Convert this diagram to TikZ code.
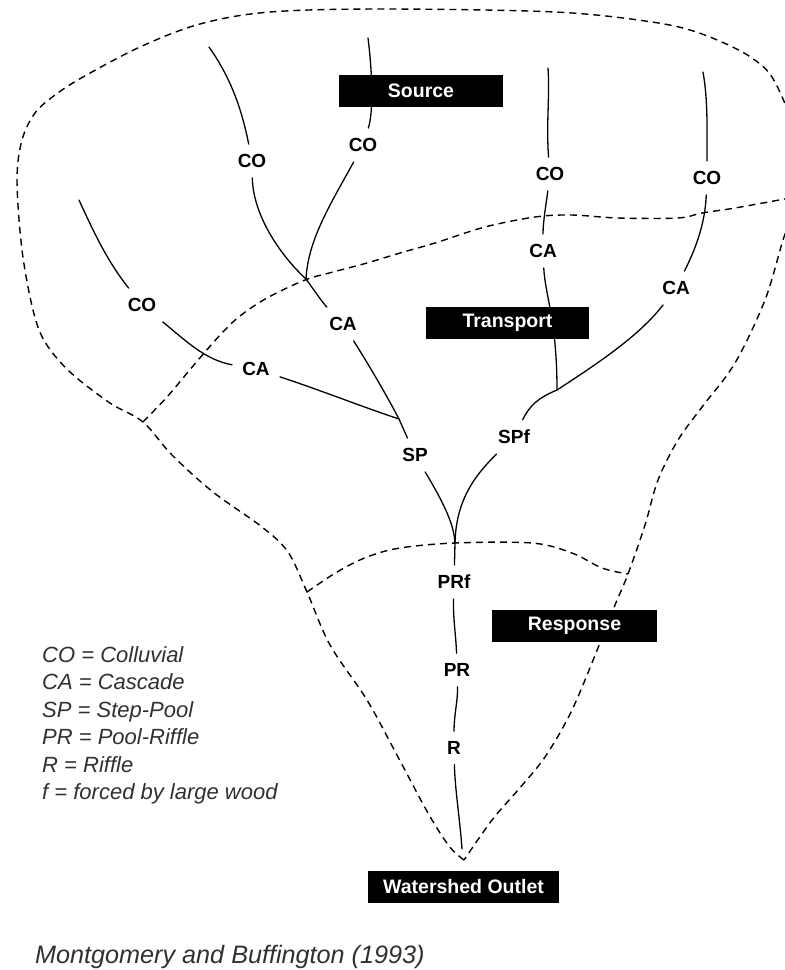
\documentclass[tikz,border=0pt]{standalone}
\usepackage{fontspec}
\setmainfont{Liberation Sans}
\usepackage{tikz}
\definecolor{KeyGray}{HTML}{303030}

\begin{document}
\begin{tikzpicture}[x=1pt,y=-1pt,
  stream/.style={line width=1.3pt,line cap=round},
  bound/.style={line width=1.4pt,dash pattern=on 7pt off 5pt},
  lbl/.style={inner sep=10pt,font=\fontsize{19}{19}\selectfont\bfseries},
  zone/.style={fill=black,text=white,inner sep=0pt,minimum height=32pt,
    font=\fontsize{19.5}{19.5}\selectfont\bfseries},
  legend/.style={inner sep=0pt,text=KeyGray,font=\fontsize{22}{22}\selectfont\itshape}]
  \useasboundingbox (0,0) rectangle (785,970);
  \clip (0,0) rectangle (785,970);

  % channel reach labels
  \node[lbl] (co1) at (252,161) {CO};
  \node[lbl] (co2) at (363,145) {CO};
  \node[lbl] (co3) at (142,305) {CO};
  \node[lbl] (co4) at (550,174) {CO};
  \node[lbl] (co5) at (707,178) {CO};
  \node[lbl] (ca1) at (343,324) {CA};
  \node[lbl] (ca2) at (256,369) {CA};
  \node[lbl] (ca3) at (543,251) {CA};
  \node[lbl] (ca4) at (676,288) {CA};
  \node[lbl] (sp) at (415,455) {SP};
  \node[lbl] (spf) at (514,437) {SPf};
  \node[lbl] (prf) at (454,582) {PRf};
  \node[lbl] (pr) at (457,670) {PR};
  \node[lbl] (r) at (454,748) {R};

  % channel heads and confluences
  \coordinate (src1) at (209,47);
  \coordinate (src2) at (368,38);
  \coordinate (src3) at (79,200);
  \coordinate (src4) at (548,68);
  \coordinate (src5) at (703,72);
  \coordinate (j1) at (306,279);
  \coordinate (j2) at (399,419);
  \coordinate (j3) at (557,390);
  \coordinate (j4) at (455,543);
  \coordinate (mouth) at (462,849);

  % zone boundaries
  \coordinate (bA) at (143,422);
  \coordinate (bB) at (307,592);
  \coordinate (bC) at (628,574);
  \coordinate (bD) at (464,860);

  % streams
  \draw[stream] (src1) .. controls (231,78) and (242,110) .. (co1);
  \draw[stream] (co1) .. controls (253,215) and (280,255) .. (j1);
  \draw[stream] (src2) .. controls (372,70) and (374,110) .. (co2);
  \draw[stream] (co2) .. controls (330,205) and (308,240) .. (j1);
  \draw[stream] (j1) .. controls (314,290) and (322,302) .. (ca1);
  \draw[stream] (src3) .. controls (95,235) and (108,262) .. (co3);
  \draw[stream] (co3) .. controls (185,340) and (205,360) .. (ca2);
  \draw[stream] (ca2) .. controls (320,390) and (360,406) .. (j2);
  \draw[stream] (ca1) .. controls (372,370) and (388,398) .. (j2);
  \draw[stream] (j2) -- (sp);
  \draw[stream] (sp) .. controls (445,505) and (454,525) .. (j4);
  \draw[stream] (src4) .. controls (550,95) and (546,125) .. (co4);
  \draw[stream] (co4) .. controls (546,205) and (543,222) .. (ca3);
  \draw[stream] (ca3) .. controls (545,295) and (557,320) .. (j3);
  \draw[stream] (src5) .. controls (708,100) and (707,130) .. (co5);
  \draw[stream] (co5) .. controls (705,225) and (695,250) .. (ca4);
  \draw[stream] (ca4) .. controls (640,335) and (600,362) .. (j3);
  \draw[stream] (j3) .. controls (538,398) and (530,405) .. (spf);
  \draw[stream] (spf) .. controls (470,480) and (456,505) .. (j4);
  \draw[stream] (j4) -- (prf);
  \draw[stream] (prf) .. controls (453,620) and (456,635) .. (pr);
  \draw[stream] (pr) .. controls (458,700) and (454,715) .. (r);
  \draw[stream] (r) .. controls (455,790) and (460,820) .. (mouth);

  % watershed outline
  \draw[bound] plot[smooth,tension=0.55] coordinates {(bD) (449,846) (428,813)
    (398,757) (367,700) (330,645) (bB) (288,552) (262,527) (213,492) (172,455)
    (bA) (110,403) (70,372) (45,342) (33,310) (22,250) (17,180) (22,140)
    (35,113) (55,95) (83,77) (140,47) (200,24) (270,12) (385,9) (555,12)
    (652,22) (702,34) (752,58) (778,88) (805,170) (783,240) (765,300)
    (735,363) (702,407) (678,440) (658,480) (645,525) (bC) (615,605)
    (600,643) (572,710) (545,757) (518,790) (492,820) (bD)};
  \draw[bound] plot[smooth,tension=0.55] coordinates {(bA) (167,397) (188,372)
    (205,352) (222,333) (240,316) (267,298) (305,280) (333,272) (367,263)
    (400,253) (435,243) (485,227) (535,217) (572,215) (618,218) (678,218)
    (702,213) (735,208) (790,198)};
  \draw[bound] plot[smooth,tension=0.55] coordinates {(bB) (337,572) (367,557)
    (400,548) (455,543) (532,543) (572,553) (602,568) (bC)};

  % zone boxes
  \node[zone,minimum width=164pt] (source) at (421,90.5) {Source};
  \node[zone,minimum width=163pt] (transport) at (507.5,323) {Transport};
  \node[zone,minimum width=165pt] (response) at (574.5,625.5) {Response};
  \node[zone,minimum width=191pt] (outlet) at (463.5,886.5) {Watershed Outlet};

  % key
  \foreach \txt [count=\i] in {CO = Colluvial, CA = Cascade, SP = Step-Pool,
      PR = Pool-Riffle, R = Riffle, f = forced by large wood}
    \node[legend,anchor=base west] (key\i) at (42,634.5+27.5*\i) {\txt};
  \node[legend,anchor=base west,font=\fontsize{25.2}{25.2}\selectfont\itshape]
    (cite) at (35,963) {Montgomery and Buffington (1993)};
\end{tikzpicture}
\end{document}
